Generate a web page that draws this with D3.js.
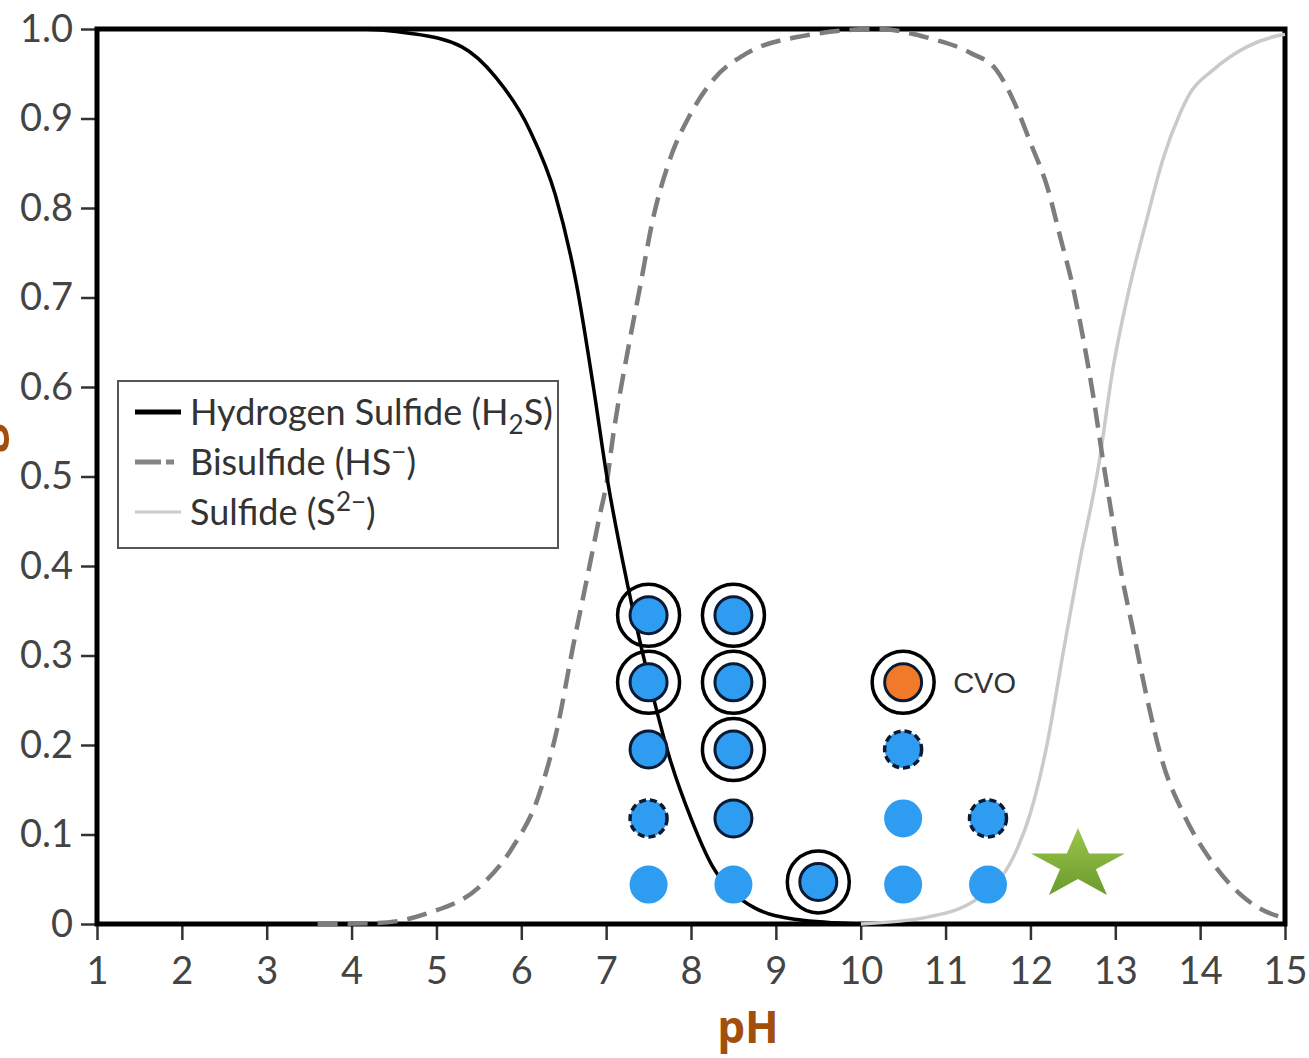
<!DOCTYPE html>
<html>
<head>
<meta charset="utf-8">
<script src="https://cdn.jsdelivr.net/npm/d3@7"></script>
<style>
  body { margin: 0; background: #fff; }
</style>
</head>
<body>
<div id="chart"></div>
<script>
// species fraction curves as [pH, fraction]
const h2sCurve = [[1,1],[4,1],[4.7,0.995],[5.3,0.98],[5.7,0.946],[6.1,0.887],[6.4,0.815],[6.65,0.715],
  [6.85,0.6],[7.0,0.505],[7.25,0.38],[7.5,0.275],[7.75,0.185],[8.0,0.118],[8.25,0.065],[8.5,0.035],
  [8.75,0.018],[9.25,0.005],[10,0]];
const hsCurve = [[3.6,0],[4.3,0.001],[4.9,0.012],[5.5,0.041],[5.9,0.086],[6.2,0.142],[6.42,0.217],
  [6.61,0.31],[6.77,0.384],[6.93,0.459],[7.01,0.495],[7.08,0.544],[7.25,0.638],[7.4,0.712],[7.55,0.787],
  [7.75,0.854],[8.0,0.906],[8.26,0.943],[8.66,0.973],[9.25,0.991],[10.2,1.0],[10.8,0.99],[11.3,0.973],
  [11.6,0.954],[11.8,0.92],[12.0,0.873],[12.2,0.823],[12.35,0.768],[12.5,0.712],[12.62,0.655],
  [12.74,0.59],[12.86,0.515],[12.97,0.45],[13.05,0.403],[13.21,0.328],[13.37,0.254],[13.56,0.18],
  [13.8,0.124],[14.15,0.068],[14.55,0.027],[14.95,0.008],[15,0.007]];
const s2Curve = [[10,0],[10.8,0.008],[11.4,0.03],[11.8,0.075],[12.0,0.124],[12.19,0.198],[12.38,0.3],
  [12.58,0.405],[12.8,0.51],[12.97,0.619],[13.17,0.712],[13.37,0.787],[13.56,0.854],[13.76,0.905],
  [13.88,0.928],[14.15,0.954],[14.55,0.98],[14.94,0.993],[15,0.994]];

const xTicks = [1,2,3,4,5,6,7,8,9,10,11,12,13,14,15];
const yTicks = [0,0.1,0.2,0.3,0.4,0.5,0.6,0.7,0.8,0.9,1.0];

// sample markers: kind = ring (double circle), solid (outlined), dashed, plain
const samples = [
  {ph: 7.5, frac: 0.345, kind: "ring"},
  {ph: 7.5, frac: 0.27, kind: "ring"},
  {ph: 7.5, frac: 0.195, kind: "solid"},
  {ph: 7.5, frac: 0.118, kind: "dashed"},
  {ph: 7.5, frac: 0.044, kind: "plain"},
  {ph: 8.5, frac: 0.345, kind: "ring"},
  {ph: 8.5, frac: 0.27, kind: "ring"},
  {ph: 8.5, frac: 0.195, kind: "ring"},
  {ph: 8.5, frac: 0.118, kind: "solid"},
  {ph: 8.5, frac: 0.044, kind: "plain"},
  {ph: 9.5, frac: 0.047, kind: "ring"},
  {ph: 10.5, frac: 0.27, kind: "ring", site: "CVO"},
  {ph: 10.5, frac: 0.195, kind: "dashed"},
  {ph: 10.5, frac: 0.118, kind: "plain"},
  {ph: 10.5, frac: 0.044, kind: "plain"},
  {ph: 11.5, frac: 0.118, kind: "dashed"},
  {ph: 11.5, frac: 0.044, kind: "plain"}
];
const starPoint = {ph: 12.56, frac: 0.066};

const width = 1309, height = 1058;
const margin = {top: 29, right: 24, bottom: 134, left: 97};

const x = d3.scaleLinear().domain([1, 15]).range([margin.left, width - margin.right]);
const y = d3.scaleLinear().domain([0, 1]).range([height - margin.bottom, margin.top]);

const svg = d3.select("#chart").append("svg")
  .attr("width", width)
  .attr("height", height)
  .style("font-family", "Lato, 'Open Sans', sans-serif");

const defs = svg.append("defs");
const grad = defs.append("linearGradient")
  .attr("id", "starGrad").attr("x1", 0).attr("y1", 0).attr("x2", 0).attr("y2", 1);
grad.append("stop").attr("offset", "0%").attr("stop-color", "#9cc64b");
grad.append("stop").attr("offset", "100%").attr("stop-color", "#6a9a2e");

// axes
const yAxis = svg.append("g")
  .attr("transform", `translate(${margin.left},0)`)
  .call(d3.axisLeft(y).tickValues(yTicks).tickSize(16).tickPadding(8)
    .tickFormat(d => d === 0 ? "0" : d3.format(".1f")(d)));
const xAxis = svg.append("g")
  .attr("transform", `translate(0,${height - margin.bottom})`)
  .call(d3.axisBottom(x).tickValues(xTicks).tickSize(16).tickPadding(17).tickFormat(d3.format("d")));

[yAxis, xAxis].forEach(g => {
  g.select(".domain").remove();
  g.selectAll(".tick line").attr("stroke", "#333").attr("stroke-width", 2.5);
  g.selectAll(".tick text")
    .attr("fill", "#444")
    .style("font-size", "38px")
    .style("font-family", "Lato, sans-serif");
});

// frame
svg.append("rect")
  .attr("x", x(1)).attr("y", y(1))
  .attr("width", x(15) - x(1)).attr("height", y(0) - y(1))
  .attr("fill", "none").attr("stroke", "#000").attr("stroke-width", 5);

// curves
const line = d3.line()
  .x(d => x(d[0]))
  .y(d => y(d[1]))
  .curve(d3.curveMonotoneX);

svg.append("path").datum(s2Curve)
  .attr("d", line).attr("fill", "none")
  .attr("stroke", "#cacaca").attr("stroke-width", 3.5);
svg.append("path").datum(hsCurve)
  .attr("d", line).attr("fill", "none")
  .attr("stroke", "#7d7d7d").attr("stroke-width", 4.5)
  .attr("stroke-dasharray", "20,10");
svg.append("path").datum(h2sCurve)
  .attr("d", line).attr("fill", "none")
  .attr("stroke", "#000").attr("stroke-width", 3.5);

// legend
const legend = svg.append("g");
legend.append("rect")
  .attr("x", 118).attr("y", 381).attr("width", 440).attr("height", 167)
  .attr("fill", "#fff").attr("stroke", "#555").attr("stroke-width", 2);

const legendRows = [
  {y: 412, stroke: "#000", w: 5, dash: null, parts: [["Hydrogen Sulfide (H", 0], ["2", 1], ["S)", 0]]},
  {y: 462, stroke: "#858585", w: 5, dash: "26,5,8", parts: [["Bisulfide (HS", 0], ["−", -1], [")", 0]]},
  {y: 512, stroke: "#cccccc", w: 3, dash: null, parts: [["Sulfide (S", 0], ["2−", -1], [")", 0]]}
];
legendRows.forEach(r => {
  legend.append("line")
    .attr("x1", 135).attr("x2", 181).attr("y1", r.y).attr("y2", r.y)
    .attr("stroke", r.stroke).attr("stroke-width", r.w)
    .attr("stroke-dasharray", r.dash);
  const t = legend.append("text")
    .attr("x", 190).attr("y", r.y + 13)
    .attr("fill", "#333")
    .style("font-size", "36px");
  let shift = 0;
  r.parts.forEach(([s, pos]) => {
    const dy = pos === 1 ? 9 : pos === -1 ? -14 : 0;
    t.append("tspan")
      .attr("dy", dy - shift)
      .style("font-size", pos === 0 ? "36px" : "26px")
      .text(s);
    shift = dy;
  });
});

// sample markers
const blue = "#2e9cf0", orange = "#f07a2a", navy = "#0b1a33";
const marks = svg.append("g")
  .selectAll("g")
  .data(samples)
  .join("g")
  .attr("transform", d => `translate(${x(d.ph)},${y(d.frac)})`);

marks.filter(d => d.kind === "ring")
  .append("circle")
  .attr("r", 31)
  .attr("fill", "none")
  .attr("stroke", "#000")
  .attr("stroke-width", 3.5);

marks.append("circle")
  .attr("r", d => d.kind === "plain" ? 19 : 18.5)
  .attr("fill", d => d.site ? orange : blue)
  .attr("stroke", d => d.kind === "plain" ? "none" : navy)
  .attr("stroke-width", d => d.kind === "dashed" ? 3.5 : 3)
  .attr("stroke-dasharray", d => d.kind === "dashed" ? "7,4" : null);

marks.filter(d => d.site)
  .append("text")
  .attr("x", 50)
  .attr("dy", "0.36em")
  .attr("fill", "#333")
  .style("font-family", "'Liberation Sans', Arial, sans-serif")
  .style("font-size", "29px")
  .text(d => d.site);

// star
svg.append("path")
  .attr("d", d3.symbol(d3.symbolStar, 2740)())
  .attr("transform", `translate(${x(starPoint.ph)},${y(starPoint.frac)}) scale(1,0.75)`)
  .attr("fill", "url(#starGrad)");

// axis titles
svg.append("text")
  .attr("x", 748).attr("y", 1043)
  .attr("text-anchor", "middle")
  .attr("fill", "#a24f0d")
  .style("font-size", "44px")
  .style("font-weight", "bold")
  .style("font-family", "'Open Sans', Lato, sans-serif")
  .text("pH");

// y title sits almost entirely off the left edge, as in the source image
svg.append("text")
  .attr("transform", "translate(-3,394) rotate(-90)")
  .attr("text-anchor", "end")
  .attr("fill", "#a24f0d")
  .style("font-size", "50px")
  .style("font-weight", "bold")
  .style("font-family", "'Open Sans', Lato, sans-serif")
  .text("Percentage");
</script>
</body>
</html>
